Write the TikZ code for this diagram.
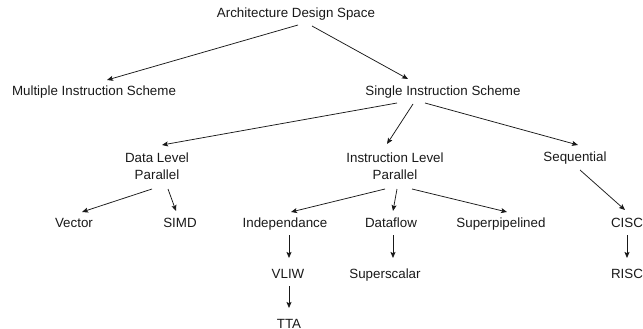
\documentclass[tikz,border=0pt]{standalone}
\usepackage{fontspec}
\setmainfont{Liberation Sans}
\usetikzlibrary{calc,arrows.meta}
\begin{document}
\begin{tikzpicture}[x=1pt,y=-1pt,
  lbl/.style={inner sep=0pt,text height=9.6pt,text depth=0pt,anchor=center,font=\fontsize{13.35}{17}\selectfont,text=black!90},
  lbl2/.style={inner sep=0pt,anchor=north,align=center,font=\fontsize{13.35}{17}\selectfont,text=black!90},
  arr/.style={draw=black!90,line width=0.75pt,-{Stealth[length=6pt,width=5pt,inset=1.2pt]}}]
\useasboundingbox (0,0) rectangle (643,329);
\node[lbl] (ads) at (296,13) {Architecture Design Space};
\node[lbl] (mis) at (94,91) {Multiple Instruction Scheme};
\node[lbl] (sis) at (443,91) {Single Instruction Scheme};
\node[lbl2] (dlp) at (157,153) {Data Level\\Parallel};
\node[lbl2] (ilp) at (395,153) {Instruction Level\\Parallel};
\node[lbl] (seq) at (575,157) {Sequential};
\node[lbl] (vec) at (74,223) {Vector};
\node[lbl] (simd) at (180,223) {SIMD};
\node[lbl] (ind) at (285,223) {Independance};
\node[lbl] (dfl) at (391,223) {Dataflow};
\node[lbl] (sp) at (501,223) {Superpipelined};
\node[lbl] (cisc) at (627,223) {CISC};
\node[lbl] (vliw) at (288,274) {VLIW};
\node[lbl] (ssc) at (385,274) {Superscalar};
\node[lbl] (risc) at (627,274) {RISC};
\node[lbl] (tta) at (289,324) {TTA};

\draw[arr] ($(ads)+(2,12)$) -- ($(mis)+(13,-11)$);
\draw[arr] ($(ads)+(16,13)$) -- ($(sis)+(-35,-12)$);
\draw[arr] ($(sis)+(-46,12)$) -- ($(dlp.north)+(5,-8)$);
\draw[arr] ($(sis)+(-30,13)$) -- ($(ilp.north)+(-8,-9)$);
\draw[arr] ($(sis)+(-18,12)$) -- ($(seq)+(3,-12)$);
\draw[arr] ($(dlp.north)+(-5,36)$) -- ($(vec)+(8,-11)$);
\draw[arr] ($(dlp.north)+(11,36)$) -- ($(simd)+(-4,-12)$);
\draw[arr] ($(ilp.north)+(-10,36)$) -- ($(ind)+(6,-11)$);
\draw[arr] ($(ilp.north)+(2,36)$) -- ($(dfl)+(2,-12)$);
\draw[arr] ($(ilp.north)+(17,36)$) -- ($(sp)+(6,-11)$);
\draw[arr] ($(seq)+(5,13)$) -- ($(cisc)+(-2,-13)$);
\draw[arr] ($(ind)+(4,12)$) -- ($(vliw)+(1,-16)$);
\draw[arr] ($(vliw)+(1,12)$) -- ($(tta)+(0,-16)$);
\draw[arr] ($(dfl)+(2,12)$) -- ($(ssc)+(8,-16)$);
\draw[arr] ($(cisc)+(0,12)$) -- ($(risc)+(0,-16)$);
\end{tikzpicture}
\end{document}
